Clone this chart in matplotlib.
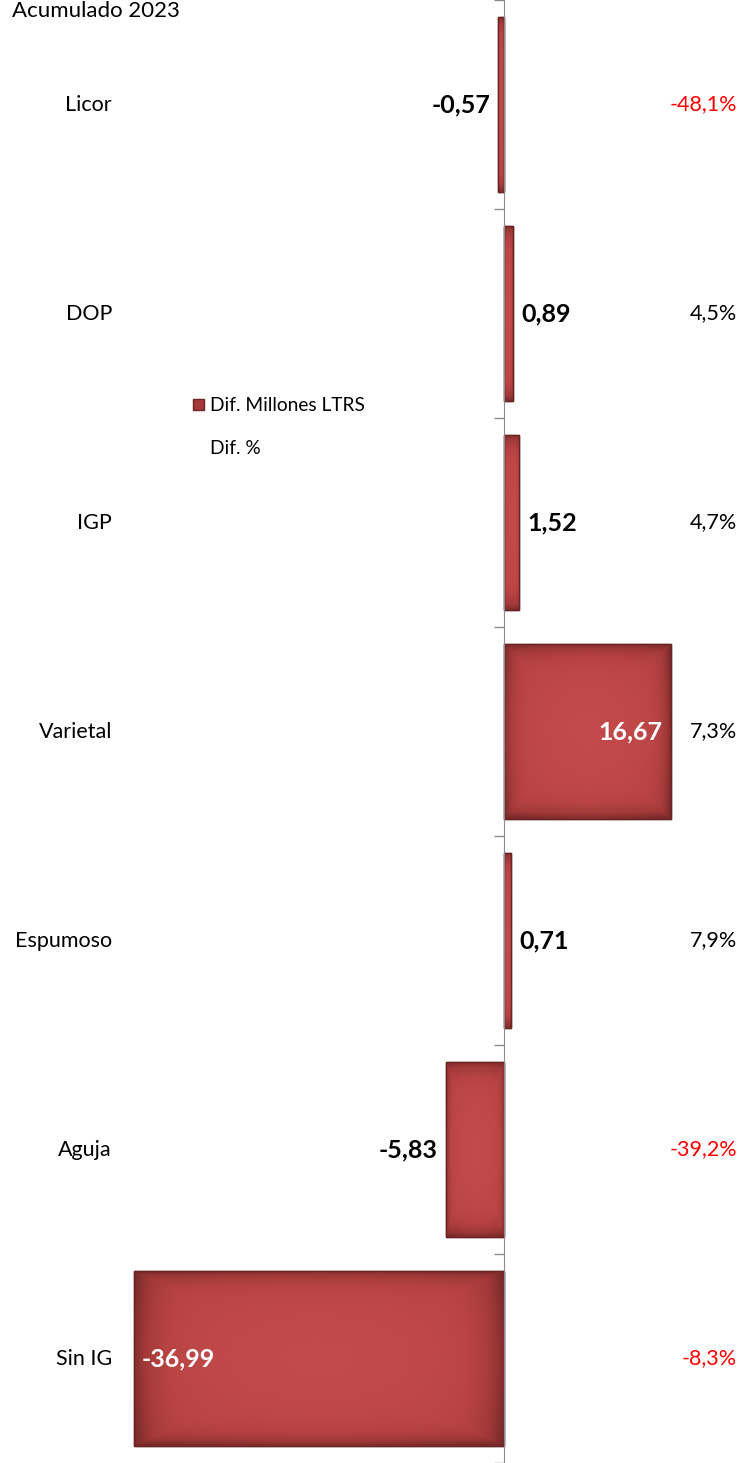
import numpy as np
import matplotlib
matplotlib.use("Agg")
import matplotlib.pyplot as plt
from matplotlib.patches import Patch
from matplotlib.lines import Line2D
from matplotlib.colors import LinearSegmentedColormap

plt.rcParams['font.family'] = ['Lato', 'DejaVu Sans']

categories = ["Licor", "DOP", "IGP", "Varietal", "Espumoso", "Aguja", "Sin IG"]
dif_millones = [-0.57, 0.89, 1.52, 16.67, 0.71, -5.83, -36.99]
dif_pct = [-48.1, 4.5, 4.7, 7.3, 7.9, -39.2, -8.3]
inside_label = [False, False, False, True, False, False, True]

def fmt(v, dec):
    return f"{v:.{dec}f}".replace(".", ",")

W, H = 754, 1463
fig = plt.figure(figsize=(W / 100, H / 100), dpi=100)
ax = fig.add_axes([0, 0, 1, 1])
ax.set_xlim(-50.4, 25.0)
ax.set_ylim(6.486, -0.481)

y = np.arange(len(categories))
bars = ax.barh(y, dif_millones, height=0.84, color="#B54040",
               edgecolor="#6E2525", linewidth=1.0, zorder=2)

# gradient shading clipped to each bar
cmap = LinearSegmentedColormap.from_list("bar", ["#742828", "#A03838", "#BA4444", "#C44B4B"])
gx = np.linspace(-1, 1, 200)
gy = np.linspace(-1, 1, 100)
GX, GY = np.meshgrid(gx, gy)
R = 1 - np.maximum(np.abs(GX) ** 8, np.abs(GY) ** 8)
R = 0.6 * R + 0.4 * (1 - np.sqrt((GX ** 2 + GY ** 2) / 2))
for b in bars:
    x0, y0 = b.get_x(), b.get_y()
    w, h = b.get_width(), b.get_height()
    im = ax.imshow(R, cmap=cmap, extent=[x0, x0 + w, y0 + h, y0], aspect="auto",
                   zorder=2.5, interpolation="bilinear")
    im.set_clip_path(b)
    ax.add_patch(plt.Rectangle((x0, y0), w, h, fill=False, edgecolor="#6A2424",
                               linewidth=1.0, zorder=2.6))

VFS = 18
for i, (v, p) in enumerate(zip(dif_millones, dif_pct)):
    txt = fmt(v, 2)
    if inside_label[i]:
        off, ha, col = ((-8, "right") if v > 0 else (8, "left")) + ("white",)
    else:
        off, ha, col = ((8, "left") if v > 0 else (-8, "right")) + ("black",)
    ax.annotate(txt, (v, i), xytext=(off, 0), textcoords="offset pixels",
                ha=ha, va="center", fontsize=VFS, fontweight="bold",
                color=col, zorder=3)
    ax.text(737 / W, i, fmt(p, 1) + "%", transform=ax.get_yaxis_transform(),
            ha="right", va="center", fontsize=15.5,
            color="#FF0000" if p < 0 else "black")
    ax.text(112 / W, i, categories[i], transform=ax.get_yaxis_transform(),
            ha="right", va="center", fontsize=15.5, color="black")

# axis styling
for s in ["top", "right", "bottom"]:
    ax.spines[s].set_visible(False)
ax.spines["left"].set_position(("data", 0))
ax.spines["left"].set_color("#8C8C8C")
ax.spines["left"].set_zorder(4)
ax.set_xticks([])
ax.set_yticks(np.arange(-0.5, len(categories), 1.0))
ax.set_yticklabels([])
ax.tick_params(axis="y", direction="out", length=7, color="#8C8C8C", width=1)

fig.text(12 / W, 1 - 1 / H, "Acumulado 2023", ha="left", va="top", fontsize=16)

handles = [Patch(facecolor="#A63838", edgecolor="#6E2525"),
           Line2D([], [], linestyle="none")]
leg = ax.legend(handles, ["Dif. Millones LTRS", "Dif. %"], loc="upper left",
                bbox_to_anchor=(176 / W, 1 - 380 / H), bbox_transform=fig.transFigure,
                frameon=False, fontsize=13.8, handlelength=0.55, handleheight=0.55,
                handletextpad=0.35, labelspacing=1.35)

fig.savefig("out.png", dpi=100)
